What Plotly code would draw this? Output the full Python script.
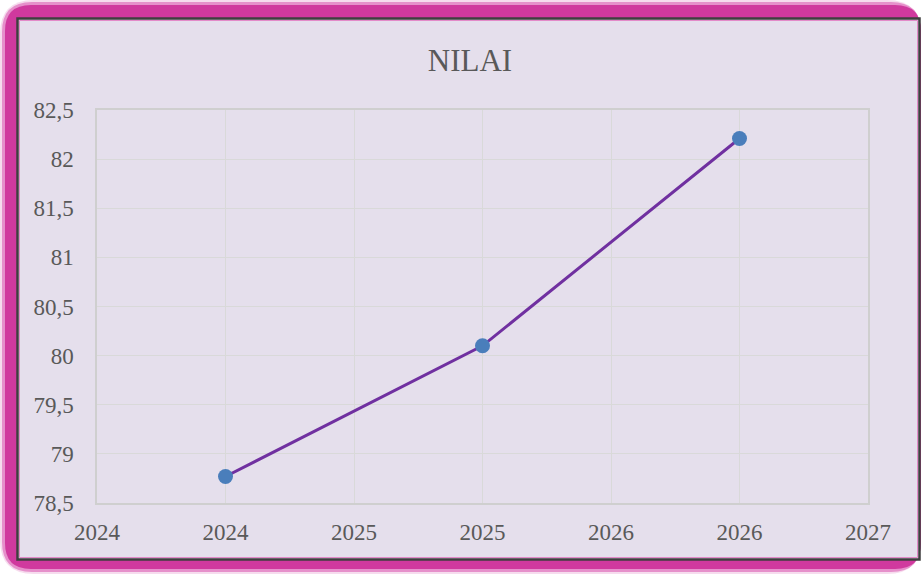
import plotly.graph_objects as go

# ---- data ----
years = [2024, 2025, 2026]
nilai = [78.77, 80.10, 82.21]
x_tick_vals = [2023.5, 2024, 2024.5, 2025, 2025.5, 2026, 2026.5]
x_tick_labels = ["2024", "2024", "2025", "2025", "2026", "2026", "2027"]
y_tick_vals = [78.5, 79, 79.5, 80, 80.5, 81, 81.5, 82, 82.5]
y_tick_labels = ["78,5", "79", "79,5", "80", "80,5", "81", "81,5", "82", "82,5"]
title_text = "NILAI"

W, H = 921, 574
L, R, T, B = 97, 868, 110, 503
FONT = "Liberation Serif, DejaVu Serif, serif"
BG = "#E5DFEC"


def fx(px):
    return (px - L) / (R - L)


def fy(py):
    return (B - py) / (B - T)


def rrect(x0, y0, x1, y1, r):
    def P(x, y):
        return f"{fx(x):.5f},{fy(y):.5f}"
    d = (f"M {P(x0 + r, y0)} L {P(x1 - r, y0)} Q {P(x1, y0)} {P(x1, y0 + r)} "
         f"L {P(x1, y1 - r)} Q {P(x1, y1)} {P(x1 - r, y1)} "
         f"L {P(x0 + r, y1)} Q {P(x0, y1)} {P(x0, y1 - r)} "
         f"L {P(x0, y0 + r)} Q {P(x0, y0)} {P(x0 + r, y0)} Z")
    return d


shapes = [
    dict(type="path", path=rrect(0, 0, 921, 574, 34), xref="paper", yref="paper",
         fillcolor="rgba(225,140,200,0.30)", line=dict(width=0), layer="below"),
    dict(type="path", path=rrect(2, 2, 921, 572, 30), xref="paper", yref="paper",
         fillcolor="#E690CB", line=dict(width=0), layer="below"),
    dict(type="path", path=rrect(5, 5, 921, 569, 26), xref="paper", yref="paper",
         fillcolor="#D0399E", line=dict(width=0), layer="below"),
    dict(type="rect", x0=fx(17.5), x1=fx(919.5), y0=fy(18.5), y1=fy(559.5),
         xref="paper", yref="paper", fillcolor=BG,
         line=dict(color="#3F3F3F", width=2.5), layer="below"),
    dict(type="rect", x0=fx(19.5), x1=fx(917.5), y0=fy(20.5), y1=fy(557.5),
         xref="paper", yref="paper", fillcolor="rgba(0,0,0,0)",
         line=dict(color="#E38AC9", width=1), layer="below"),
]

fig = go.Figure()
fig.add_trace(go.Scatter(
    x=years, y=nilai, mode="lines+markers",
    line=dict(color="#7030A0", width=3),
    marker=dict(color="#4A7EBB", size=15, line=dict(width=0)),
    hoverinfo="skip", showlegend=False,
))

fig.update_layout(
    width=W, height=H,
    margin=dict(l=L, r=W - R, t=T, b=H - B, pad=0),
    paper_bgcolor="white",
    plot_bgcolor=BG,
    separators=",.",
    shapes=shapes,
    title=dict(text=title_text, xref="container", x=470 / W, xanchor="center",
               yref="container", y=1 - 60 / H, yanchor="middle",
               font=dict(family=FONT, size=31, color="#595959")),
    font=dict(family=FONT, color="#595959"),
    xaxis=dict(range=[2023.5, 2026.5], tickvals=x_tick_vals, ticktext=x_tick_labels,
               showgrid=True, gridcolor="#D9D9D9", gridwidth=1,
               showline=True, linecolor="#CFCFCF", linewidth=1.5, mirror=True,
               zeroline=False, ticks="", ticklabelstandoff=8,
               tickfont=dict(family=FONT, size=23, color="#595959")),
    yaxis=dict(range=[78.5, 82.5], tickvals=y_tick_vals, ticktext=y_tick_labels,
               showgrid=True, gridcolor="#D9D9D9", gridwidth=1,
               showline=True, linecolor="#CFCFCF", linewidth=1.5, mirror=True,
               zeroline=False, ticks="", ticklabelstandoff=17,
               tickfont=dict(family=FONT, size=23, color="#595959")),
)

fig.write_html("out.html", config=dict(displayModeBar=False),
               post_script="document.body.style.margin='0';document.body.style.padding='0';")
